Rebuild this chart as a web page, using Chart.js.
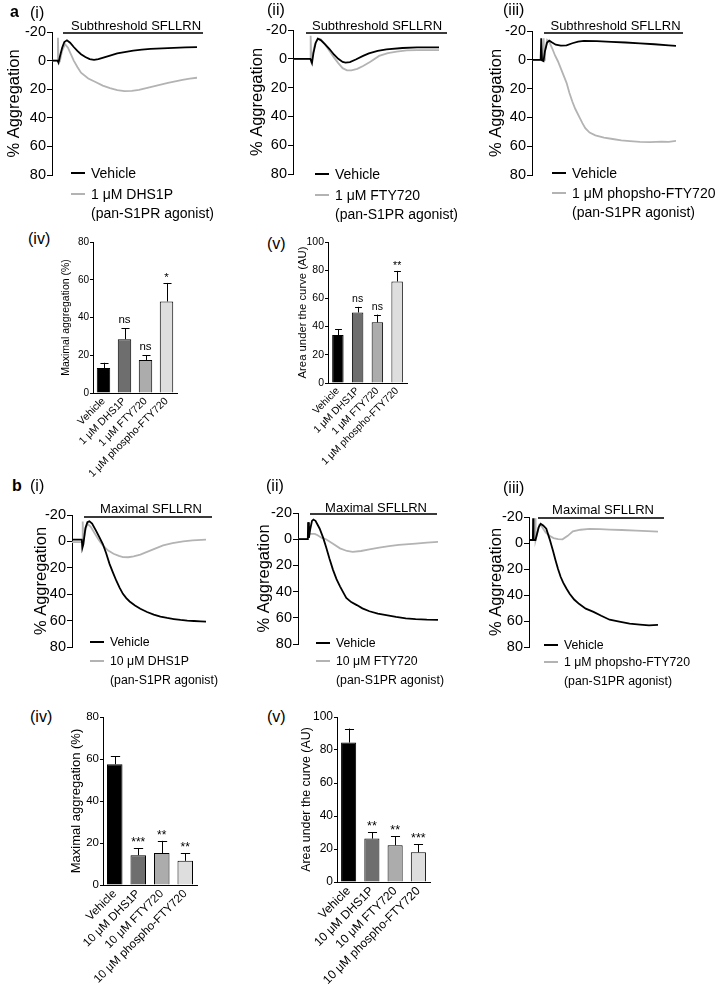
<!DOCTYPE html>
<html><head><meta charset="utf-8">
<script src="https://cdn.jsdelivr.net/npm/chart.js@4.4.1/dist/chart.umd.min.js"></script>
<style>
html,body{margin:0;padding:0;background:#fff;}
#fig{position:relative;width:716px;height:993px;overflow:hidden;font-family:'Liberation Sans',Arial,Helvetica,sans-serif;color:#000;}
canvas{position:absolute;z-index:1;}
.t{position:absolute;white-space:nowrap;z-index:2;}
.ln{position:absolute;z-index:2;}
</style></head><body><div id="fig"></div>
<script>
// ---------- DATA ----------
// time (arbitrary units, 0..100) and % aggregation for each trace
const aiVehT  = [0,3.8,4.5,5.5,7,8.5,10.3,12.5,15,17.5,20,23,26,29,32,36,40,45,50,56,62,68,76,84,92,100];
const aiVehY  = [0,0,1.5,-3,-9,-13,-14.2,-12.5,-9.5,-6.8,-4.5,-2.5,-1,-0.5,-1,-2.3,-3.5,-5,-6,-7,-7.7,-8.2,-8.6,-8.9,-9.2,-9.4];
const aiDrugT = [0,3.8,4.1,4.5,5.5,7,9,11,13,15,17.5,20,25,30,35,40,45,50,55,60,65,70,75,80,85,90,95,100];
const aiDrugY = [0,0,-16,-1,0,-7,-11.5,-9,-4.5,0,4.5,8.5,12.5,15,17.5,19.3,20.6,21.3,21.2,20.5,19.3,18,16.8,15.6,14.5,13.5,12.6,12];

const aiiVehT  = [0,11.8,12.3,13,14,15.5,17,19,22,25,28,31,34,36,39,43,48,52,58,64,75,85,100];
const aiiVehY  = [0,0,1,3,-4,-11,-14,-13,-10,-6.8,-3,0,2.2,2.7,2.3,0.5,-2,-3.8,-5.5,-6.5,-7.5,-8,-8];
const aiiDrugT = [0,11.8,12.1,12.5,13.5,15,17,19,22,25,28,31,34,37,40,44,48,53,59,65,71,78,85,100];
const aiiDrugY = [0,0,-16,0,-3,-10,-14,-13.5,-10,-5.5,-1,3,6.5,8,8,7,5,2,-2,-4,-5,-5.8,-6,-6];

const aiiiVehT  = [0,6,6.4,7,8,9,10.5,12,14,16.5,20,24,28,32,36,45,55,65,75,85,95,100];
const aiiiVehY  = [0,0,-15,0.5,1,-6,-12,-13.3,-12,-10.5,-9.8,-10,-11.5,-12.6,-13.1,-12.9,-12.4,-12,-11.4,-10.8,-10,-9.7];
const aiiiDrugT = [0,7.8,8.1,8.4,9,10.5,12,14,16,18,20,22,24,26,28,30,33,35,37,40,44,50,56,62,68,75,82,90,95,100];
const aiiiDrugY = [0,0,-15,0,-6,-13.8,-12.5,-8,-3,1,6,11,16,23,29,34,40,44,47.5,50.5,52.5,54,55,56,56.5,57,57.2,56.8,57,56.3];

const biVehT  = [0,7.3,7.7,8.5,10,11.5,13,15,18,20.5,23,25.5,28,30.5,33,35.5,38,40.5,43,47,51,56,61,66,71,76,81,86,91,96,100];
const biVehY  = [-1.3,-1.3,5,2,-10,-14.5,-15.2,-13.5,-8,-3,2,9,17,23.5,29.6,35,39.7,43,45.5,48.5,51,53.5,55.4,57,58,58.8,59.5,60,60.3,60.6,60.8];
const biDrugT = [0,7.8,8,8.4,9.5,11,12,14,17,20,23,27,31,35,38,42,46,51,56,62,68,75,83,90,100];
const biDrugY = [0.5,0.5,-15,0,-6,-12,-13,-11,-6,-1,3,7,9.4,11,11.9,12,11.4,10,8,5.5,3,1.3,0,-0.7,-1.3];

const biiVehT  = [0,7,7.2,7.8,8.8,10,11,12.5,14,15.5,18,20,22.5,25,27.5,30,32.5,34.5,38,42,46,51,57,63,70,77,84,92,100];
const biiVehY  = [0,0,-13,-1,-8,-14,-15,-14,-11,-8,-1,5.8,15,23.4,30.5,36,41,44.8,48,50.3,52.8,55,56.8,58,59.3,60.4,61,61.4,61.6];
const biiDrugT = [0,7,7.4,9.5,12,14,17,20,25,30,35,39,45,51,58,65,72,84,92,100];
const biiDrugY = [0,0,-4,-4,-4,-3,-1,0,3.5,7,9,9.6,9,7.8,6.5,5.3,4.4,3.3,2.6,2];

const biiiVehT  = [0,3,3.2,3.5,5,6.5,7.5,9,11,13.4,16,18.6,20.5,22.5,24.5,26.5,29,31.5,35,39,44,50,56,62.5,70,78,86,93,100];
const biiiVehY  = [-2.3,-2.3,-19,-2.3,-2.3,-8,-12,-14.8,-13.5,-11,-3,6,13,20,26,30.5,35,39,43.5,47,50.5,53,56,59,60.5,62,62.8,63.4,63];
const biiiDrugT = [0,4.6,4.8,5.1,6,8,9.5,11,13,16,19,22.5,26,30,34,40,47,55,62.5,72,83,92,100];
const biiiDrugY = [-2.3,-2.3,-19,-2.3,-6,-14,-13.5,-11,-8,-5.6,-3.8,-3,-2.8,-5.5,-9,-10.2,-10.8,-10.6,-10.3,-10,-9.5,-9.2,-8.7];

const aggTicks = [-20, 0, 20, 40, 60, 80];

// bar charts
const catsA = ['Vehicle', '1 \u03bcM DHS1P', '1 \u03bcM FTY720', '1 \u03bcM phospho-FTY720'];
const catsB = ['Vehicle', '10 \u03bcM DHS1P', '10 \u03bcM FTY720', '10 \u03bcM phospho-FTY720'];
const aivMean = [13.2, 28.5, 17.5, 48.5];
const aivSem  = [2.8, 5.8, 2.5, 9.8];
const aivSig  = ['', 'ns', 'ns', '*'];
const avMean  = [34, 50, 43, 72];
const avSem   = [4, 4, 5.5, 7.5];
const avSig   = ['', 'ns', 'ns', '**'];
const bivMean = [57.5, 14.2, 15.2, 11.5];
const bivSem  = [3.8, 3.4, 5.8, 3.6];
const bivSig  = ['', '***', '**', '**'];
const bvMean  = [84.5, 26.3, 22.3, 18];
const bvSem   = [8.5, 3.8, 5.5, 4.8];
const bvSig   = ['', '**', '**', '***'];

// ---------- RENDER ----------
const FONT = "'Liberation Sans', Arial, Helvetica, sans-serif";
Chart.defaults.font.family = FONT;
Chart.defaults.color = '#000';
const fig = document.getElementById('fig');
const BAR_COLORS = ['#000000', '#6e6e6e', '#acacac', '#dedede'];

function pts(T, Y) { return T.map((t, i) => ({x: t, y: Y[i]})); }

function text(str, left, cy, size, opts = {}) {
  const d = document.createElement('div');
  d.className = 't';
  d.textContent = str;
  const lh = Math.round(size * 1.2);
  d.style.fontSize = size + 'px';
  d.style.lineHeight = lh + 'px';
  d.style.top = (cy - lh / 2) + 'px';
  d.style.left = left + 'px';
  if (opts.bold) d.style.fontWeight = 'bold';
  if (opts.center) d.style.transform = 'translateX(-50%)';
  fig.appendChild(d);
}
function hline(x1, x2, y, h, color) {
  const d = document.createElement('div');
  d.className = 'ln';
  d.style.left = x1 + 'px'; d.style.width = (x2 - x1) + 'px';
  d.style.top = (y - h / 2) + 'px'; d.style.height = h + 'px';
  d.style.background = color;
  fig.appendChild(d);
}
function mkCanvas(l, t, w, h) {
  const c = document.createElement('canvas');
  c.width = w; c.height = h;
  c.style.left = l + 'px'; c.style.top = t + 'px';
  c.style.width = w + 'px'; c.style.height = h + 'px';
  fig.appendChild(c);
  return c;
}

function linePanel(p) {
  const cl = Math.round(p.titleX - 13.9);
  const ct = p.ct, cr = p.dataEnd + 4, cb = p.yBottom + 12;
  const cv = mkCanvas(cl, ct, cr - cl, cb - ct);
  new Chart(cv, {
    type: 'line',
    data: { datasets: [
      { data: pts(p.vehT, p.vehY), borderColor: '#000', borderWidth: 1.8, pointRadius: 0, tension: 0 },
      { data: pts(p.drugT, p.drugY), borderColor: '#b3b3b3', borderWidth: 1.8, pointRadius: 0, tension: 0 }
    ]},
    options: {
      responsive: false, animation: false, devicePixelRatio: 1,
      layout: { padding: { left: 0, top: p.yTop - ct, right: cr - p.dataEnd, bottom: cb - p.yBottom } },
      plugins: { legend: { display: false }, tooltip: { enabled: false } },
      scales: {
        x: { type: 'linear', display: false, min: 0, max: 100 },
        y: {
          min: -20, max: 80, reverse: true,
          afterBuildTicks: s => { s.ticks = aggTicks.map(v => ({value: v})); },
          ticks: { font: { size: 14.5 }, color: '#000', padding: 1 },
          grid: { display: true, drawOnChartArea: false, drawTicks: true, tickLength: 5, color: '#000', lineWidth: 1 },
          border: { display: true, color: '#000', width: 1 },
          title: { display: true, text: '% Aggregation', font: { size: 16.5 }, color: '#000', padding: { top: 4, bottom: 0 } },
          afterFit: s => { s.width = p.axisX - cl; }
        }
      }
    }
  });
  // stimulus bar annotation
  hline(p.lineStart, p.lineEnd, p.lineY, 1.5, '#3a3a3a');
  const d = document.createElement('div');
  d.className = 't'; d.textContent = p.stim;
  d.style.fontSize = '13px'; d.style.lineHeight = '13px';
  d.style.left = p.textCx + 'px'; d.style.top = (p.textBase - 11) + 'px';
  d.style.transform = 'translateX(-50%)';
  fig.appendChild(d);
  // legend
  const sz = p.legSize;
  hline(p.legX - 20, p.legX - 6, p.legY[0], 2, '#000');
  hline(p.legX - 20, p.legX - 6, p.legY[1], 2, '#b3b3b3');
  text('Vehicle', p.legX, p.legY[0], sz);
  text(p.drugName, p.legX, p.legY[1], sz);
  text('(pan-S1PR agonist)', p.legX, p.legY[2], sz);
}

function barPanel(p) {
  const cl = p.cl, ct = p.yTop - 12, cr = p.right + 8, cb = p.yBottom + p.xh;
  const cv = mkCanvas(cl, ct, cr - cl, cb - ct);
  const errPlugin = {
    id: 'errbars',
    afterDatasetsDraw(chart) {
      const ctx = chart.ctx, ys = chart.scales.y, meta = chart.getDatasetMeta(0);
      ctx.save();
      ctx.strokeStyle = '#000'; ctx.lineWidth = 1;
      meta.data.forEach((bar, i) => {
        const top = ys.getPixelForValue(p.mean[i] + p.sem[i]);
        const x = Math.round(bar.x) + 0.5;
        const hw = bar.width * 0.3;
        ctx.beginPath();
        ctx.moveTo(x, bar.y); ctx.lineTo(x, top);
        ctx.moveTo(x - hw, Math.round(top) + 0.5); ctx.lineTo(x + hw, Math.round(top) + 0.5);
        ctx.stroke();
        const s = p.sig[i];
        if (s) {
          ctx.fillStyle = '#000';
          ctx.font = p.sigf + 'px ' + FONT;
          ctx.textAlign = 'center'; ctx.textBaseline = 'alphabetic';
          ctx.fillText(s, bar.x, top - (s === 'ns' ? 5 : 2));
        }
      });
      ctx.restore();
    }
  };
  new Chart(cv, {
    type: 'bar',
    data: { labels: p.cats, datasets: [{
      data: p.mean, backgroundColor: BAR_COLORS, borderColor: '#000', borderWidth: 1,
      barPercentage: p.bp, categoryPercentage: 1
    }]},
    options: {
      responsive: false, animation: false, devicePixelRatio: 1,
      layout: { padding: { left: 0, top: 12, right: 8, bottom: 0 } },
      plugins: { legend: { display: false }, tooltip: { enabled: false } },
      scales: {
        x: {
          ticks: { font: { size: p.xf }, color: '#000', minRotation: 45, maxRotation: 45, padding: p.xpad, autoSkip: false },
          grid: { display: false, drawTicks: false },
          border: { display: true, color: '#000', width: 1 },
          afterFit: s => { s.height = p.xh; }
        },
        y: {
          min: 0, max: p.ymax,
          ticks: { stepSize: 20, font: { size: p.yf }, color: '#000', padding: 1 },
          grid: { display: true, drawOnChartArea: false, drawTicks: true, tickLength: 3, color: '#000', lineWidth: 1 },
          border: { display: true, color: '#000', width: 1 },
          title: { display: true, text: p.ytitle, font: { size: p.tf }, color: '#000', padding: { top: 2, bottom: 0 } },
          afterFit: s => { s.width = p.axisX - cl; }
        }
      }
    },
    plugins: [errPlugin]
  });
}

// ---- row a ----
linePanel({ ct: 18, titleX: 15, axisX: 52, yTop: 32, yBottom: 175, dataEnd: 197,
  lineStart: 63, lineEnd: 203, lineY: 33, textCx: 136, textBase: 29.5, stim: 'Subthreshold SFLLRN',
  vehT: aiVehT, vehY: aiVehY, drugT: aiDrugT, drugY: aiDrugY,
  legX: 91, legY: [173, 194, 213], legSize: 14, drugName: '1 \u03bcM DHS1P' });
linePanel({ ct: 18, titleX: 257.5, axisX: 293, yTop: 30, yBottom: 174, dataEnd: 439,
  lineStart: 306, lineEnd: 447, lineY: 33, textCx: 377, textBase: 29.5, stim: 'Subthreshold SFLLRN',
  vehT: aiiVehT, vehY: aiiVehY, drugT: aiiDrugT, drugY: aiiDrugY,
  legX: 335, legY: [174, 195, 214], legSize: 14, drugName: '1 \u03bcM FTY720' });
linePanel({ ct: 18, titleX: 496.7, axisX: 532, yTop: 31, yBottom: 175, dataEnd: 676,
  lineStart: 544, lineEnd: 683, lineY: 33, textCx: 615.5, textBase: 29.5, stim: 'Subthreshold SFLLRN',
  vehT: aiiiVehT, vehY: aiiiVehY, drugT: aiiiDrugT, drugY: aiiiDrugY,
  legX: 572, legY: [173, 193, 212], legSize: 14, drugName: '1 \u03bcM phopsho-FTY720' });

barPanel({ cl: 58, axisX: 93, yTop: 242, yBottom: 393, right: 177, ymax: 80, xf: 10.5, yf: 10, tf: 10.5, sigf: 11.5, xh: 95, xpad: 2, bp: 0.64,
  cats: catsA, mean: aivMean, sem: aivSem, sig: aivSig, ytitle: 'Maximal aggregation (%)' });
barPanel({ cl: 294, axisX: 328, yTop: 242, yBottom: 383, right: 407, ymax: 100, xf: 10.2, yf: 10.5, tf: 11.3, sigf: 10.5, xh: 100, xpad: 2, bp: 0.58,
  cats: catsA, mean: avMean, sem: avSem, sig: avSig, ytitle: 'Area under the curve (AU)' });

// ---- row b ----
linePanel({ ct: 495, titleX: 42, axisX: 72, yTop: 515, yBottom: 647, dataEnd: 206,
  lineStart: 84, lineEnd: 212, lineY: 517, textCx: 151, textBase: 512.7, stim: 'Maximal SFLLRN',
  vehT: biVehT, vehY: biVehY, drugT: biDrugT, drugY: biDrugY,
  legX: 110, legY: [642, 661, 680], legSize: 12.3, drugName: '10 \u03bcM DHS1P' });
linePanel({ ct: 495, titleX: 265, axisX: 298, yTop: 513, yBottom: 644, dataEnd: 438,
  lineStart: 310, lineEnd: 437, lineY: 514, textCx: 376, textBase: 511.5, stim: 'Maximal SFLLRN',
  vehT: biiVehT, vehY: biiVehY, drugT: biiDrugT, drugY: biiDrugY,
  legX: 336, legY: [643, 661, 680], legSize: 12.3, drugName: '10 \u03bcM FTY720' });
linePanel({ ct: 495, titleX: 496.7, axisX: 529, yTop: 517, yBottom: 647, dataEnd: 658,
  lineStart: 538, lineEnd: 664, lineY: 518, textCx: 603, textBase: 514, stim: 'Maximal SFLLRN',
  vehT: biiiVehT, vehY: biiiVehY, drugT: biiiDrugT, drugY: biiiDrugY,
  legX: 564, legY: [645, 662, 681], legSize: 12.3, drugName: '1 \u03bcM phopsho-FTY720' });

barPanel({ cl: 67, axisX: 103, yTop: 717, yBottom: 885, right: 197, ymax: 80, xf: 11.7, yf: 11.5, tf: 13, sigf: 12, xh: 105, xpad: 2, bp: 0.66,
  cats: catsB, mean: bivMean, sem: bivSem, sig: bivSig, ytitle: 'Maximal aggregation (%)' });
barPanel({ cl: 297, axisX: 337, yTop: 717, yBottom: 882, right: 430, ymax: 100, xf: 12.2, yf: 12, tf: 12.4, sigf: 12.5, xh: 108, xpad: 2, bp: 0.65,
  cats: catsB, mean: bvMean, sem: bvSem, sig: bvSig, ytitle: 'Area under the curve (AU)' });

// ---- panel labels ----
text('a', 10, 11, 16, { bold: true });
text('(i)', 30, 12, 16);
text('(ii)', 267, 9.5, 16);
text('(iii)', 503, 9.5, 16);
text('(iv)', 28, 238.5, 16);
text('(v)', 267, 243.5, 16);
text('b', 12, 485, 16, { bold: true });
text('(i)', 30, 485, 16);
text('(ii)', 266, 485.5, 16);
text('(iii)', 503, 487.5, 16);
text('(iv)', 30, 716, 16);
text('(v)', 267, 716.5, 16);
</script>
</body></html>
